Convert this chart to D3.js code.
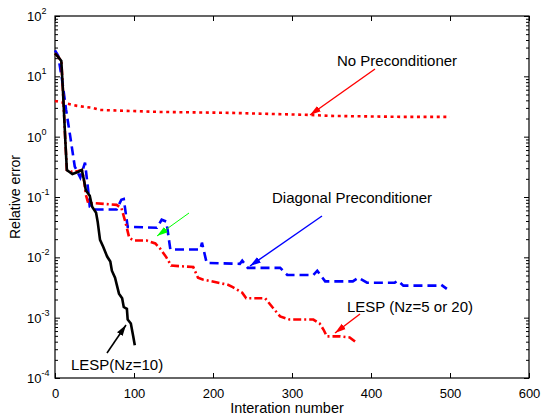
<!DOCTYPE html>
<html>
<head>
<meta charset="utf-8">
<script src="https://cdn.jsdelivr.net/npm/d3@7"></script>
<style>
  body { margin: 0; background: #fff; }
  svg text { font-family: Arial, "Liberation Sans", sans-serif; }
</style>
</head>
<body>
<script>
// convergence history data

var noPrecIter = [0, 6, 28, 48, 57, 133, 222, 323, 348, 437, 500];
var noPrecErr  = [3.9, 3.77, 3.24, 3.0, 2.77, 2.57, 2.48, 2.29, 2.21, 2.13, 2.13];

var diagIter = [0, 4, 9, 14, 19, 25, 32, 35, 38, 42, 44, 51, 78, 84, 87, 92, 129, 135, 141, 146, 184, 186, 192,
                234, 237, 244, 285, 294, 327, 332, 342, 377, 384, 395, 430, 434, 441, 485, 489, 496];
var diagErr  = [27, 22, 8.7, 2.8, 1.07, 0.32, 0.21, 0.28, 0.37, 0.13, 0.069, 0.062, 0.062, 0.09, 0.093, 0.032,
                0.031, 0.042, 0.039, 0.0135, 0.0135, 0.0175, 0.0081, 0.0078, 0.0088, 0.0067, 0.0067, 0.0051,
                0.0051, 0.006, 0.004, 0.004, 0.0046, 0.0038, 0.0038, 0.0041, 0.0034, 0.0034, 0.0035, 0.003];

var lesp520Iter = [0, 4, 8, 10, 13, 15, 22, 29, 34, 37, 39, 42, 51, 78, 84, 89, 94, 100, 116, 127, 133, 141, 147,
                   175, 181, 187, 219, 225, 237, 242, 266, 275, 285, 297, 327, 335, 340, 344, 361, 373, 380];
var lesp520Err  = [24, 21, 18, 6, 0.9, 0.28, 0.26, 0.27, 0.28, 0.18, 0.11, 0.079, 0.079, 0.074, 0.066, 0.039,
                   0.021, 0.019, 0.019, 0.017, 0.014, 0.01, 0.0073, 0.0069, 0.0046, 0.0043, 0.0035, 0.0032,
                   0.0026, 0.0021, 0.0021, 0.0015, 0.00105, 0.00093, 0.00093, 0.0008, 0.00063, 0.00049,
                   0.00049, 0.00047, 0.0004];

var lesp10Iter = [0, 4, 8, 10, 13, 15, 22, 29, 34, 37, 39, 44, 47, 52, 54, 57, 61, 66, 70, 72, 76, 78, 81, 85,
                  87, 91, 92, 96, 99, 101];
var lesp10Err  = [24, 21, 18, 6, 0.9, 0.28, 0.24, 0.26, 0.28, 0.18, 0.13, 0.105, 0.069, 0.055, 0.039, 0.0195,
                  0.015, 0.0103, 0.0085, 0.006, 0.0046, 0.0036, 0.0025, 0.0021, 0.0015, 0.0014, 0.00093,
                  0.0008, 0.00049, 0.00035];

var xTicks = [0, 100, 200, 300, 400, 500, 600];
var yExps  = [2, 1, 0, -1, -2, -3, -4];

function zip(xs, ys) {
  return xs.map(function(x, i) { return { it: x, err: ys[i] }; });
}

var series = [
  { id: "none",  values: zip(noPrecIter, noPrecErr),   color: "#ff0000", dash: "3,3.6" },
  { id: "diag",  values: zip(diagIter, diagErr),       color: "#0000ff", dash: "9,5" },
  { id: "lesp",  values: zip(lesp520Iter, lesp520Err), color: "#ff0000", dash: "8,3,2,3" },
  { id: "lesp10", values: zip(lesp10Iter, lesp10Err),  color: "#000000", dash: null }
];

var width = 541, height = 420;
var plotL = 55, plotR = 529, plotT = 16, plotB = 378;

var svg = d3.select("body").append("svg")
    .attr("width", width)
    .attr("height", height);

var xScale = d3.scaleLinear().domain([0, 600]).range([plotL, plotR]);
var yScale = d3.scaleLog().domain([1e-4, 1e2]).range([plotB, plotT]);

// minor log ticks
var minor = [];
for (var e = -4; e < 2; e++) {
  for (var m = 2; m <= 9; m++) minor.push(m * Math.pow(10, e));
}
var major = yExps.map(function(p) { return Math.pow(10, p); });

function styleAxis(g) {
  g.select(".domain").remove();
  g.selectAll(".tick line").attr("stroke", "#000").attr("stroke-width", 1);
}

// x axis bottom / top
svg.append("g")
    .attr("transform", "translate(0," + plotB + ")")
    .call(d3.axisBottom(xScale).tickValues(xTicks).tickSizeInner(-5).tickSizeOuter(0).tickPadding(11))
    .call(styleAxis)
    .selectAll("text")
    .attr("font-size", 13)
    .attr("fill", "#000");

svg.append("g")
    .attr("transform", "translate(0," + plotT + ")")
    .call(d3.axisTop(xScale).tickValues(xTicks).tickSizeInner(-5).tickSizeOuter(0).tickFormat(""))
    .call(styleAxis);

// y axis left / right, major + minor
svg.append("g")
    .attr("transform", "translate(" + plotL + ",0)")
    .call(d3.axisLeft(yScale).tickValues(major).tickSizeInner(-5).tickSizeOuter(0).tickFormat(""))
    .call(styleAxis);
svg.append("g")
    .attr("transform", "translate(" + plotL + ",0)")
    .call(d3.axisLeft(yScale).tickValues(minor).tickSizeInner(-3).tickSizeOuter(0).tickFormat(""))
    .call(styleAxis);
svg.append("g")
    .attr("transform", "translate(" + plotR + ",0)")
    .call(d3.axisRight(yScale).tickValues(major).tickSizeInner(-5).tickSizeOuter(0).tickFormat(""))
    .call(styleAxis);
svg.append("g")
    .attr("transform", "translate(" + plotR + ",0)")
    .call(d3.axisRight(yScale).tickValues(minor).tickSizeInner(-3).tickSizeOuter(0).tickFormat(""))
    .call(styleAxis);

// y tick labels 10^n
var ylab = svg.append("g").selectAll("text")
    .data(yExps)
    .enter()
    .append("text")
    .attr("x", 27)
    .attr("y", function(d) { return yScale(Math.pow(10, d)) + 5; })
    .attr("font-size", 13)
    .attr("fill", "#000");
ylab.append("tspan").text("10");
ylab.append("tspan")
    .attr("dy", -7)
    .attr("font-size", 9)
    .text(function(d) { return d < 0 ? "-" + (-d) : d; });

// box
svg.append("rect")
    .attr("x", plotL).attr("y", plotT)
    .attr("width", plotR - plotL).attr("height", plotB - plotT)
    .attr("fill", "none")
    .attr("stroke", "#000")
    .attr("stroke-width", 1.2);

// axis titles
svg.append("text")
    .attr("x", xScale(300) - 5)
    .attr("y", 413)
    .attr("text-anchor", "middle")
    .attr("font-size", 14.5)
    .text("Interation number");

svg.append("text")
    .attr("transform", "translate(20," + (plotT + plotB) / 2 + ") rotate(-90)")
    .attr("text-anchor", "middle")
    .attr("font-size", 14)
    .text("Relative error");

// curves
var line = d3.line()
    .x(function(d) { return xScale(d.it); })
    .y(function(d) { return yScale(d.err); });

svg.append("g").selectAll("path")
    .data(series)
    .enter()
    .append("path")
    .attr("d", function(d) { return line(d.values); })
    .attr("fill", "none")
    .attr("stroke", function(d) { return d.color; })
    .attr("stroke-width", 2.6)
    .attr("stroke-dasharray", function(d) { return d.dash; });

// arrows + annotations
var defs = svg.append("defs");
[["red", "#ff0000"], ["blue", "#0000ff"], ["black", "#000000"], ["green", "#00ff00"]].forEach(function(c) {
  defs.append("marker")
      .attr("id", "arrow-" + c[0])
      .attr("viewBox", "0 0 10 10")
      .attr("refX", 10).attr("refY", 5)
      .attr("markerWidth", 11).attr("markerHeight", 11)
      .attr("markerUnits", "userSpaceOnUse")
      .attr("orient", "auto")
      .append("path")
      .attr("d", "M0,2 L10,5 L0,8 Z")
      .attr("fill", c[1]);
});

var colors = { red: "#ff0000", blue: "#0000ff", black: "#000000", green: "#00ff00" };

var notes = [
  { text: "No Preconditioner",       tx: 337, ty: 66,  x1: 375, y1: 69,  x2: 310, y2: 115, col: "red",   w: 1.4 },
  { text: "Diagonal Preconditioner", tx: 272, ty: 203, x1: 322, y1: 216, x2: 250, y2: 266, col: "blue",  w: 1.4 },
  { text: "LESP (Nz=5 or 20)",       tx: 347, ty: 312, x1: 360, y1: 314, x2: 335, y2: 333, col: "red",   w: 1.4 },
  { text: "LESP(Nz=10)",             tx: 71,  ty: 370, x1: 107, y1: 353, x2: 126, y2: 325, col: "black", w: 1.6 },
  { text: "",                        tx: 0,   ty: 0,   x1: 189, y1: 213, x2: 157, y2: 236, col: "green", w: 1 }
];

svg.append("g").selectAll("line")
    .data(notes)
    .enter()
    .append("line")
    .attr("x1", function(d) { return d.x1; })
    .attr("y1", function(d) { return d.y1; })
    .attr("x2", function(d) { return d.x2; })
    .attr("y2", function(d) { return d.y2; })
    .attr("stroke", function(d) { return colors[d.col]; })
    .attr("stroke-width", function(d) { return d.w; })
    .attr("marker-end", function(d) { return "url(#arrow-" + d.col + ")"; });

svg.append("g").selectAll("text")
    .data(notes.filter(function(d) { return d.text; }))
    .enter()
    .append("text")
    .attr("x", function(d) { return d.tx; })
    .attr("y", function(d) { return d.ty; })
    .attr("font-size", 15)
    .attr("fill", "#000")
    .text(function(d) { return d.text; });
</script>
</body>
</html>
